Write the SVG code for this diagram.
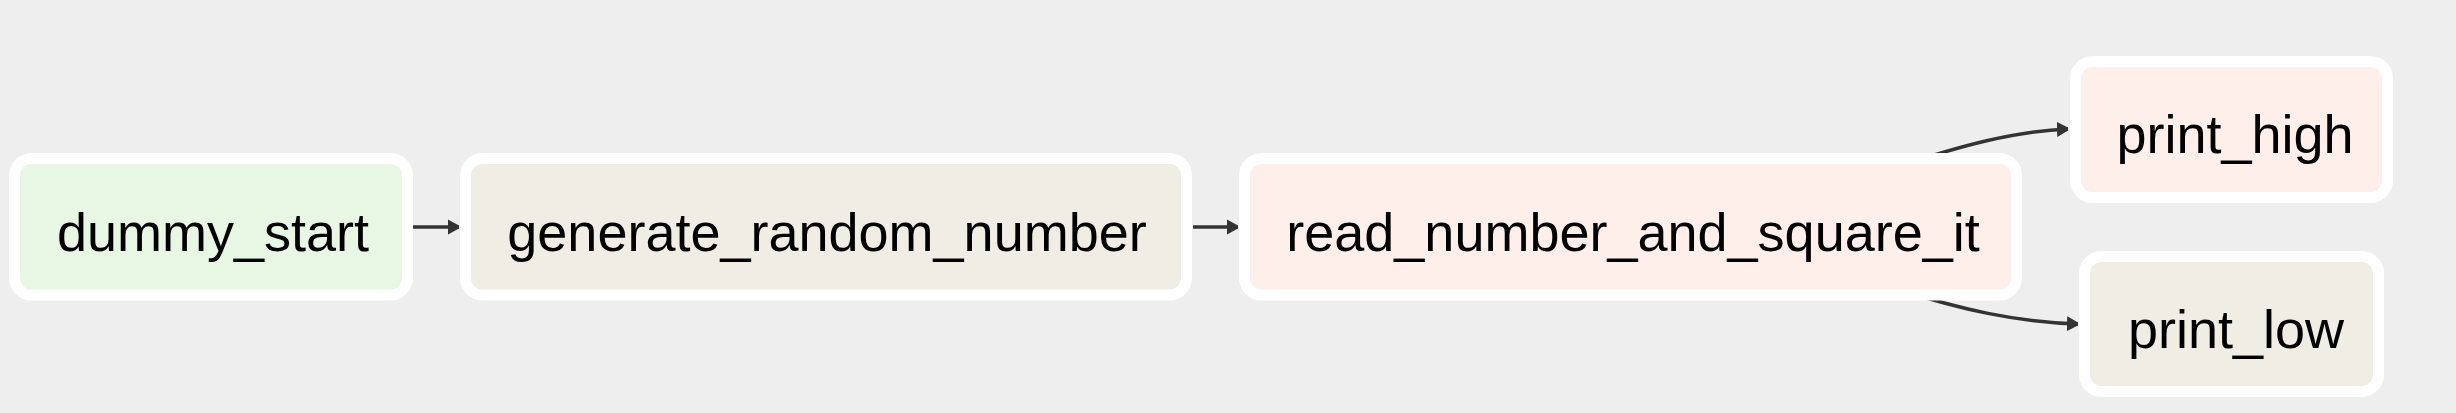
<svg xmlns="http://www.w3.org/2000/svg" width="2456" height="413" viewBox="0 0 2456 413">
<defs>
<style>
.node rect{stroke:#ffffff;stroke-width:11}
.node text{font-family:"Liberation Sans",Arial,sans-serif;font-size:54px;fill:#000000;text-anchor:middle}
.edge{fill:none;stroke:#333333;stroke-width:3.5}
.dummy{fill:#e8f7e4}
.bash{fill:#f0ede4}
.python{fill:#ffefeb}
</style>
<marker id="arrow" markerUnits="userSpaceOnUse" markerWidth="12" markerHeight="18" refX="11" refY="9" orient="auto">
<path d="M0,1.5 L11,7.5 L11,10.5 L0,16.5 z" fill="#333333"/>
</marker>
</defs>
<rect width="2456" height="413" fill="#eeeeee"/>
<g id="connectors">
<path class="edge" d="M413,227 L459,227" marker-end="url(#arrow)"/>
<path class="edge" d="M1193,227 L1238,227" marker-end="url(#arrow)"/>
<path class="edge" d="M1900,166 C1960,146 2015,131 2068,129" marker-end="url(#arrow)"/>
<path class="edge" d="M1900,290 C1960,309 2015,322 2078,324" marker-end="url(#arrow)"/>
</g>
<g id="dummy_start" class="node">
<rect class="dummy" x="14.5" y="158.5" width="393" height="136.5" rx="17"/>
<text x="213" y="251">dummy_start</text>
</g>
<g id="generate_random_number" class="node">
<rect class="bash" x="465.5" y="158.5" width="721" height="136.5" rx="17"/>
<text x="827" y="251">generate_random_number</text>
</g>
<g id="read_number_and_square_it" class="node">
<rect class="python" x="1244.5" y="158.5" width="772" height="136.5" rx="17"/>
<text x="1633" y="251">read_number_and_square_it</text>
</g>
<g id="print_high" class="node">
<rect class="python" x="2075.5" y="61.5" width="312" height="136" rx="17"/>
<text x="2235" y="153">print_high</text>
</g>
<g id="print_low" class="node">
<rect class="bash" x="2084.5" y="256.5" width="294" height="135" rx="17"/>
<text x="2236" y="348">print_low</text>
</g>
</svg>
